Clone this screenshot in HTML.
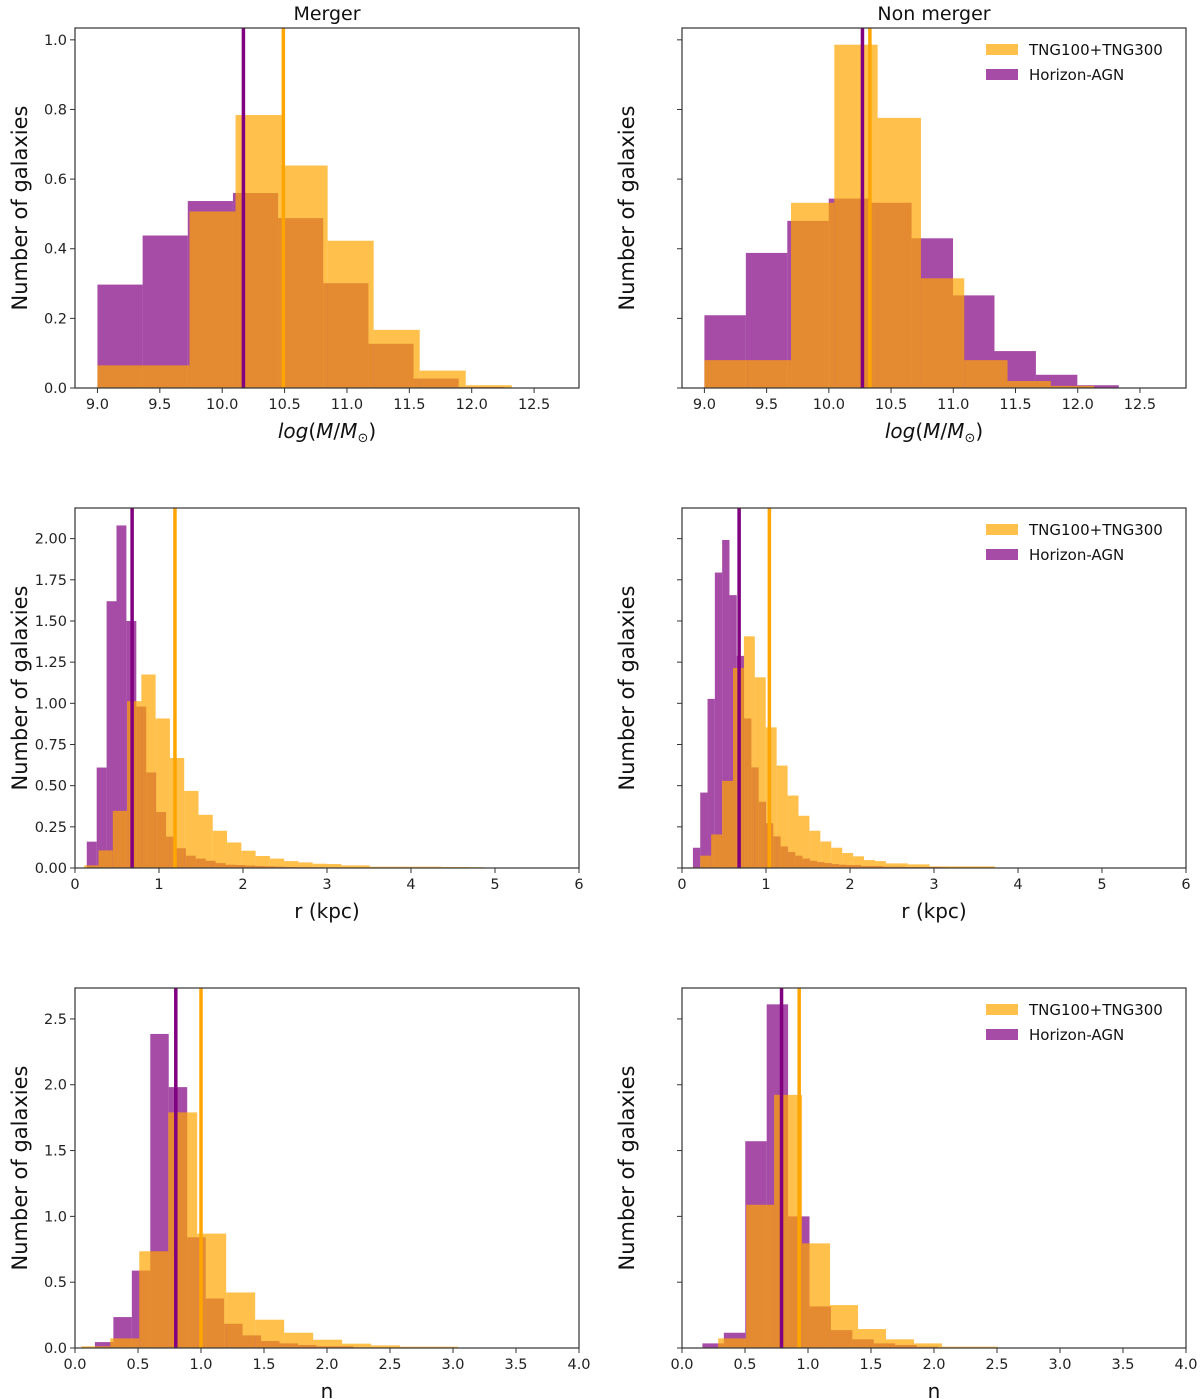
<!DOCTYPE html>
<html><head><meta charset="utf-8">
<style>
html,body{margin:0;padding:0;background:#fff;}
svg{display:block;font-family:"DejaVu Sans","Liberation Sans",sans-serif;}
</style></head>
<body>
<svg id="fig" width="1200" height="1399" viewBox="0 0 1200 1399" xmlns="http://www.w3.org/2000/svg"></svg>
<script>
// ---- Data ----
const massMergerPurpleStart = 9.0, massMergerPurpleWidth = 0.362;
const massMergerPurple = [0.297,0.438,0.537,0.560,0.488,0.301,0.127,0.027,0.003];
const massMergerOrangeStart = 9.0, massMergerOrangeWidth = 0.369;
const massMergerOrange = [0.065,0.065,0.507,0.784,0.639,0.423,0.167,0.050,0.008];
const massMergerMedians = [10.17, 10.49];

const massNonPurpleStart = 9.0, massNonPurpleWidth = 0.333;
const massNonPurple = [0.209,0.388,0.480,0.544,0.532,0.430,0.266,0.106,0.038,0.008];
const massNonOrangeStart = 9.0, massNonOrangeWidth = 0.348;
const massNonOrange = [0.080,0.080,0.532,0.986,0.776,0.315,0.080,0.020,0.006];
const massNonMedians = [10.27, 10.33];

const rMergerPurpleStart = 0.14, rMergerPurpleWidth = 0.118;
const rMergerPurple = [0.16,0.61,1.62,2.08,1.50,0.98,0.58,0.34,0.19,0.12,0.075,0.057,0.044,0.03,0.02,0.018,0.015,0.012,0.01,0.008,0.006,0.005,0.005,0.004];
const rMergerOrangeStart = 0.11, rMergerOrangeWidth = 0.170;
const rMergerOrange = [0.016,0.107,0.347,1.013,1.175,0.908,0.668,0.468,0.323,0.226,0.155,0.105,0.073,0.057,0.042,0.034,0.026,0.024,0.016,0.016,0.008,0.008,0.008,0.008,0.008,0.006,0.006,0.005];
const rMergerMedians = [0.68, 1.19];

const rNonPurpleStart = 0.13, rNonPurpleWidth = 0.087;
const rNonPurple = [0.123,0.458,1.027,1.794,1.992,1.657,1.288,0.908,0.611,0.402,0.272,0.192,0.131,0.097,0.075,0.057,0.044,0.036,0.030,0.024,0.020,0.018,0.018,0.012,0.012,0.012,0.008,0.008,0.008,0.006,0.006,0.006,0.006,0.006,0.004];
const rNonOrangeStart = 0.087, rNonOrangeWidth = 0.130;
const rNonOrange = [0.004,0.075,0.204,0.529,1.215,1.407,1.158,0.854,0.622,0.440,0.317,0.226,0.161,0.123,0.091,0.071,0.048,0.042,0.028,0.028,0.022,0.022,0.010,0.010,0.010,0.010,0.010,0.010];
const rNonMedians = [0.68, 1.04];

const nMergerPurpleStart = 0.158, nMergerPurpleWidth = 0.1465;
const nMergerPurple = [0.045,0.235,0.588,2.386,1.982,0.841,0.376,0.184,0.096,0.053,0.035,0.023,0.013,0.013];
const nMergerOrangeStart = 0.05, nMergerOrangeWidth = 0.23;
const nMergerOrange = [0.013,0.073,0.735,1.790,0.869,0.422,0.215,0.116,0.063,0.033,0.020,0.010,0.010];
const nMergerMedians = [0.80, 1.00];

const nNonPurpleStart = 0.162, nNonPurpleWidth = 0.170;
const nNonPurple = [0.035,0.116,1.571,2.611,1.0,0.316,0.136,0.066,0.035,0.023,0.010];
const nNonOrangeStart = 0.287, nNonOrangeWidth = 0.222;
const nNonOrange = [0.073,1.088,1.923,0.795,0.326,0.144,0.066,0.035,0.010,0.010];
const nNonMedians = [0.79, 0.93];

const massXTicks = ["9.0","9.5","10.0","10.5","11.0","11.5","12.0","12.5"];
const massYTicks = ["0.0","0.2","0.4","0.6","0.8","1.0"];
const rXTicks = ["0","1","2","3","4","5","6"];
const rYTicks = ["0.00","0.25","0.50","0.75","1.00","1.25","1.50","1.75","2.00"];
const nXTicks = ["0.0","0.5","1.0","1.5","2.0","2.5","3.0","3.5","4.0"];
const nYTicks = ["0.0","0.5","1.0","1.5","2.0","2.5"];

// ---- Drawing ----
const NS = "http://www.w3.org/2000/svg";
const fig = document.getElementById('fig');
function mk(tag, attrs, parent){
  const e = document.createElementNS(NS, tag);
  for (const k in attrs) e.setAttribute(k, attrs[k]);
  (parent||fig).appendChild(e);
  return e;
}

function panel(o){
  const g = mk('g', {});
  
  
  const X = v => o.x0 + (v - o.xmin) / (o.xmax - o.xmin) * (o.x1 - o.x0);
  const Y = v => o.y1 - (v - 0) / o.ymax * (o.y1 - o.y0);
  const series = [
    {vals:o.pv, start:o.ps, w:o.pw, fill:'rgba(128,0,128,0.7)', nm:'horizon-agn-bar'},
    {vals:o.ov, start:o.os, w:o.ow, fill:'rgba(255,165,0,0.7)', nm:'tng-bar'}
  ];
  series.forEach(s => {
    const sg = mk('g', {}, g);
    
    
    s.vals.forEach((v, i) => {
      const xa = X(s.start + i * s.w), xb = X(s.start + (i + 1) * s.w);
      const r = mk('rect', {x: xa, y: Y(v), width: Math.max(0, xb - xa), height: Math.max(0, Y(0) - Y(v)), fill: s.fill}, sg);
      
      
    });
  });
  const mcol = ['#800080', '#ffa500'];
  o.med.forEach((m, i) => {
    const l = mk('line', {x1: X(m), x2: X(m), y1: o.y0, y2: o.y1, stroke: mcol[i], 'stroke-width': 3.5}, g);
    
    
  });
  const fr = mk('rect', {x: o.x0, y: o.y0, width: o.x1 - o.x0, height: o.y1 - o.y0, fill: 'none', stroke: '#333', 'stroke-width': 1.2}, g);
  
  
  o.xt.forEach(t => {
    const xv = X(parseFloat(t));
    mk('line', {x1: xv, x2: xv, y1: o.y1, y2: o.y1 + 5, stroke: '#333', 'stroke-width': 1}, g);
    const tx = mk('text', {x: xv, y: o.y1 + 21, 'font-size': 14.5, 'text-anchor': 'middle', fill: '#222'}, g);
    tx.textContent = t;
    
    
  });
  o.yt.forEach(t => {
    const yv = Y(parseFloat(t));
    mk('line', {x1: o.x0 - 5, x2: o.x0, y1: yv, y2: yv, stroke: '#333', 'stroke-width': 1}, g);
    if (o.ylabels) {
      const tx = mk('text', {x: o.x0 - 8, y: yv + 5, 'font-size': 14.5, 'text-anchor': 'end', fill: '#222'}, g);
      tx.textContent = t;
      
      
    }
  });
  const cy = (o.y0 + o.y1) / 2, cx = o.x0 - 48;
  const yl = mk('text', {x: cx, y: cy, 'font-size': 21, 'text-anchor': 'middle', fill: '#111', transform: `rotate(-90 ${cx} ${cy})`}, g);
  yl.textContent = 'Number of galaxies';
  
  
  const xl = mk('text', {x: (o.x0 + o.x1) / 2, y: o.y1 + 50, 'font-size': 20, 'text-anchor': 'middle', fill: '#111'}, g);
  xl.innerHTML = o.xlab;
  
  
  if (o.title) {
    const tt = mk('text', {x: (o.x0 + o.x1) / 2, y: o.y0 - 8, 'font-size': 19, 'text-anchor': 'middle', fill: '#111'}, g);
    tt.textContent = o.title;
    
    
  }
  if (o.legend) {
    const lg = mk('g', {}, g);
    
    
    const items = [['TNG100+TNG300', 'rgba(255,165,0,0.7)'], ['Horizon-AGN', 'rgba(128,0,128,0.7)']];
    items.forEach((it, i) => {
      const yy = o.y0 + 16 + i * 25;
      const p = mk('rect', {x: o.x1 - 200, y: yy, width: 32, height: 11, fill: it[1]}, lg);
      
      
      const t = mk('text', {x: o.x1 - 157, y: yy + 11, 'font-size': 15, fill: '#111'}, lg);
      t.textContent = it[0];
      
      
    });
  }
}

const L = [75, 579], R = [682, 1186];
const rows = [[28, 388], [508, 868], [988, 1348]];
const massLab = '<tspan font-style="italic">log</tspan>(<tspan font-style="italic">M</tspan>/<tspan font-style="italic">M</tspan><tspan font-size="13" dy="4">⊙</tspan><tspan dy="-4">)</tspan>';

panel({name:'mass-merger-panel', x0:L[0], x1:L[1], y0:rows[0][0], y1:rows[0][1], xmin:8.82, xmax:12.86, ymax:1.034,
  pv:massMergerPurple, ps:massMergerPurpleStart, pw:massMergerPurpleWidth,
  ov:massMergerOrange, os:massMergerOrangeStart, ow:massMergerOrangeWidth, med:massMergerMedians,
  xt:massXTicks, yt:massYTicks, ylabels:true, xlab:massLab, title:'Merger'});
panel({name:'mass-nonmerger-panel', x0:R[0], x1:R[1], y0:rows[0][0], y1:rows[0][1], xmin:8.82, xmax:12.87, ymax:1.034,
  pv:massNonPurple, ps:massNonPurpleStart, pw:massNonPurpleWidth,
  ov:massNonOrange, os:massNonOrangeStart, ow:massNonOrangeWidth, med:massNonMedians,
  xt:massXTicks, yt:massYTicks, ylabels:false, xlab:massLab, title:'Non merger', legend:true});
panel({name:'radius-merger-panel', x0:L[0], x1:L[1], y0:rows[1][0], y1:rows[1][1], xmin:0, xmax:6, ymax:2.186,
  pv:rMergerPurple, ps:rMergerPurpleStart, pw:rMergerPurpleWidth,
  ov:rMergerOrange, os:rMergerOrangeStart, ow:rMergerOrangeWidth, med:rMergerMedians,
  xt:rXTicks, yt:rYTicks, ylabels:true, xlab:'r (kpc)'});
panel({name:'radius-nonmerger-panel', x0:R[0], x1:R[1], y0:rows[1][0], y1:rows[1][1], xmin:0, xmax:6, ymax:2.186,
  pv:rNonPurple, ps:rNonPurpleStart, pw:rNonPurpleWidth,
  ov:rNonOrange, os:rNonOrangeStart, ow:rNonOrangeWidth, med:rNonMedians,
  xt:rXTicks, yt:rYTicks, ylabels:false, xlab:'r (kpc)', legend:true});
panel({name:'sersic-merger-panel', x0:L[0], x1:L[1], y0:rows[2][0], y1:rows[2][1], xmin:0, xmax:4, ymax:2.735,
  pv:nMergerPurple, ps:nMergerPurpleStart, pw:nMergerPurpleWidth,
  ov:nMergerOrange, os:nMergerOrangeStart, ow:nMergerOrangeWidth, med:nMergerMedians,
  xt:nXTicks, yt:nYTicks, ylabels:true, xlab:'n'});
panel({name:'sersic-nonmerger-panel', x0:R[0], x1:R[1], y0:rows[2][0], y1:rows[2][1], xmin:0, xmax:4, ymax:2.735,
  pv:nNonPurple, ps:nNonPurpleStart, pw:nNonPurpleWidth,
  ov:nNonOrange, os:nNonOrangeStart, ow:nNonOrangeWidth, med:nNonMedians,
  xt:nXTicks, yt:nYTicks, ylabels:false, xlab:'n', legend:true});
</script>
</body></html>
